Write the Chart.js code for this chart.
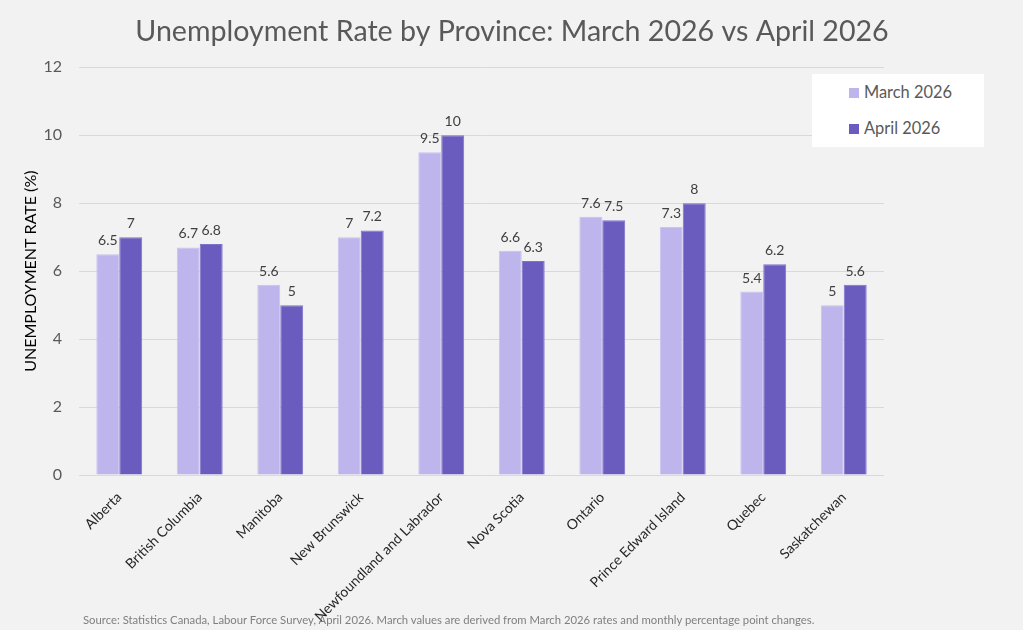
<!DOCTYPE html>
<html>
<head>
<meta charset="utf-8">
<script src="https://cdn.jsdelivr.net/npm/chart.js@4.4.1/dist/chart.umd.min.js"></script>
<style>
  html, body { margin: 0; padding: 0; background: #fff; }
  #frame {
    position: absolute; left: 0; top: 0;
    width: 1023px; height: 630px;
    background: #f2f2f2;
  }
  #wrap { position: absolute; left: 0; top: 0; width: 1024px; height: 637px; }
  #legend {
    position: absolute; left: 812px; top: 74px; width: 172px; height: 73px;
    background: #fff; font-family: Lato, sans-serif; font-size: 16.4px; color: #595959;
  }
  .item { position: absolute; left: 37px; height: 20px; line-height: 20px; white-space: nowrap; }
  .item span { display: inline-block; width: 10px; height: 10px; margin-right: 5px; vertical-align: 0px; }
  #source {
    position: absolute; left: 83px; top: 613px;
    font-family: Lato, sans-serif; font-size: 11.3px; color: #7f7f7f; white-space: nowrap;
  }
</style>
</head>
<body>
<div id="frame"></div>
<div id="wrap"><canvas id="chart"></canvas></div>
<div id="legend">
  <div class="item" style="top:8px"><span style="background:#bdb5ec"></span>March 2026</div>
  <div class="item" style="top:44px"><span style="background:#6a5bbe"></span>April 2026</div>
</div>
<div id="source">Source: Statistics Canada, Labour Force Survey, April 2026. March values are derived from March 2026 rates and monthly percentage point changes.</div>
<script>
const provinces = [
  "Alberta", "British Columbia", "Manitoba", "New Brunswick",
  "Newfoundland and Labrador", "Nova Scotia", "Ontario",
  "Prince Edward Island", "Quebec", "Saskatchewan"
];
const march2026 = [6.5, 6.7, 5.6, 7, 9.5, 6.6, 7.6, 7.3, 5.4, 5];
const april2026 = [7, 6.8, 5, 7.2, 10, 6.3, 7.5, 8, 6.2, 5.6];
const yTicks = [0, 2, 4, 6, 8, 10, 12];

// value labels drawn above each bar
const barValueLabels = {
  id: "barValueLabels",
  afterDatasetsDraw(chart) {
    const ctx = chart.ctx;
    ctx.save();
    ctx.font = "14px Lato, sans-serif";
    ctx.fillStyle = "#404040";
    ctx.textAlign = "center";
    ctx.textBaseline = "alphabetic";
    chart.data.datasets.forEach((ds, i) => {
      chart.getDatasetMeta(i).data.forEach((bar, j) => {
        ctx.fillText(String(ds.data[j]), bar.x, bar.y - 9);
      });
    });
    ctx.restore();
  }
};

new Chart(document.getElementById("chart"), {
  type: "bar",
  data: {
    labels: provinces,
    datasets: [
      { label: "March 2026", data: march2026, backgroundColor: "#bdb5ec", borderColor: "#c9c2f2", borderWidth: 1 },
      { label: "April 2026", data: april2026, backgroundColor: "#6a5bbe", borderColor: "#7f72cc", borderWidth: 1 }
    ]
  },
  options: {
    responsive: true,
    maintainAspectRatio: false,
    animation: false,
    devicePixelRatio: 1,
    layout: { padding: 0 },
    datasets: { bar: { categoryPercentage: 0.57, barPercentage: 1 } },
    plugins: {
      legend: { display: false },
      tooltip: { enabled: false },
      title: {
        display: true,
        text: "Unemployment Rate by Province: March 2026 vs April 2026",
        color: "#595959",
        font: { family: "Lato, sans-serif", size: 28.6, weight: "normal" },
        padding: { top: 15, bottom: 18 }
      }
    },
    scales: {
      x: {
        grid: { display: false },
        border: { display: false },
        ticks: {
          color: "#262626",
          font: { family: "Lato, sans-serif", size: 14 },
          minRotation: 45, maxRotation: 45, padding: 6
        },
        afterFit(scale) { scale.height = 162; }
      },
      y: {
        min: 0, max: 12,
        afterBuildTicks(scale) { scale.ticks = yTicks.map(v => ({ value: v })); },
        grid: { color: "#d9d9d9", drawTicks: false },
        border: { display: false },
        ticks: {
          color: "#595959",
          font: { family: "Lato, sans-serif", size: 16 },
          padding: 17
        },
        title: {
          display: true,
          text: "UNEMPLOYMENT RATE (%)",
          color: "#000",
          font: { family: "Lato, sans-serif", size: 16 },
          padding: { top: 21 }
        },
        afterFit(scale) { scale.width = 79; }
      },
      // empty right-hand axis that reserves the space right of the plot
      spacer: {
        type: "linear",
        position: "right",
        display: true,
        grid: { display: false },
        border: { display: false },
        ticks: { display: false },
        afterFit(scale) { scale.width = 140; }
      }
    }
  },
  plugins: [barValueLabels]
});
</script>
</body>
</html>
